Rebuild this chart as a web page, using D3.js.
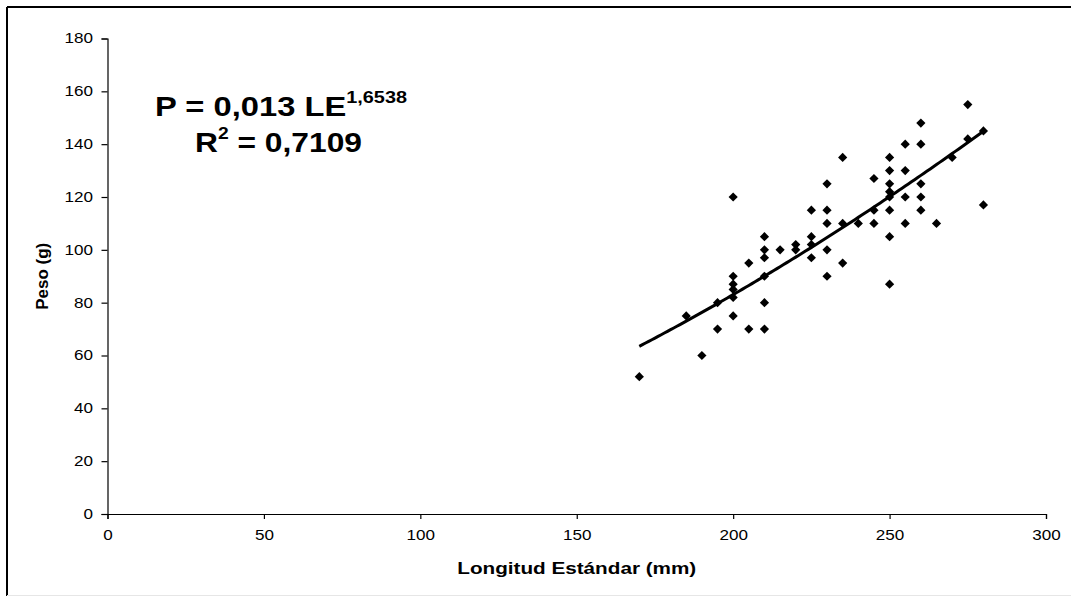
<!DOCTYPE html>
<html>
<head>
<meta charset="utf-8">
<script src="https://cdn.jsdelivr.net/npm/d3@7"></script>
<style>
  html, body { margin: 0; padding: 0; background: #fff; }
  svg { display: block; }
  text { font-family: "Liberation Sans", Arial, sans-serif; fill: #000; }
</style>
</head>
<body>
<svg id="chart" width="1071" height="596"></svg>
<script>
// Longitud estándar (mm) y peso (g) de cada ejemplar
const longitud = [170, 190, 185, 195, 195, 200, 200, 200, 200, 200, 200,
  205, 205, 210, 210, 210, 210, 210, 210, 215, 220, 220,
  225, 225, 225, 225, 230, 230, 230, 230, 230,
  235, 235, 235, 240, 245, 245, 245,
  250, 250, 250, 250, 250, 250, 250, 250,
  255, 255, 255, 255, 260, 260, 260, 260, 260,
  265, 270, 275, 275, 280, 280];
const peso = [52, 60, 75, 70, 80, 120, 90, 87, 85, 82, 75,
  95, 70, 105, 100, 97, 90, 80, 70, 100, 102, 100,
  115, 105, 102, 97, 125, 115, 110, 100, 90,
  135, 110, 95, 110, 127, 115, 110,
  135, 130, 125, 122, 120, 115, 105, 87,
  140, 130, 120, 110, 148, 140, 125, 120, 115,
  110, 135, 155, 142, 145, 117];

// Ajuste potencial P = a · LE^b
const coefA = 0.013;
const coefB = 1.6538;
const r2Label = "0,7109";
const trendRange = [170, 280];

const xTicks = [0, 50, 100, 150, 200, 250, 300];
const yTicks = [0, 20, 40, 60, 80, 100, 120, 140, 160, 180];

const svg = d3.select("#chart");
const W = 1071, H = 596;

// horizontal stretch applied to labels
function stretch(sel, factor) {
  sel.each(function () {
    const len = this.getComputedTextLength();
    d3.select(this).attr("textLength", len * factor).attr("lengthAdjust", "spacingAndGlyphs");
  });
}

// frame
svg.append("line").attr("x1", 7).attr("y1", 7).attr("x2", W).attr("y2", 7)
  .attr("stroke", "#000").attr("stroke-width", 2);
svg.append("line").attr("x1", 7).attr("y1", 7).attr("x2", 7).attr("y2", H)
  .attr("stroke", "#000").attr("stroke-width", 2);
svg.append("line").attr("x1", 7).attr("y1", 595.5).attr("x2", W).attr("y2", 595.5)
  .attr("stroke", "#e6e6e6").attr("stroke-width", 1);

const x = d3.scaleLinear().domain([0, 300]).range([107.5, 1046]);
const y = d3.scaleLinear().domain([0, 180]).range([514, 38.5]);

// axes
const gx = svg.append("g").attr("transform", `translate(0,${y(0)})`)
  .call(d3.axisBottom(x).tickValues(xTicks).tickSize(5).tickPadding(11).tickFormat(d3.format("d")));
const gy = svg.append("g").attr("transform", `translate(${x(0)},0)`)
  .call(d3.axisLeft(y).tickValues(yTicks).tickSize(6).tickPadding(7).tickFormat(d3.format("d")));
[gx, gy].forEach(g => {
  g.select(".domain").attr("stroke", "#000").attr("stroke-width", 1.2);
  g.selectAll(".tick line").attr("stroke", "#000").attr("stroke-width", 1.2);
  g.selectAll(".tick text").attr("font-size", 14)
    .attr("font-family", "'Liberation Sans', Arial, sans-serif").attr("fill", "#000");
});
gy.selectAll(".tick text").attr("dx", "-0.1em");
stretch(gx.selectAll(".tick text"), 1.22);
stretch(gy.selectAll(".tick text"), 1.22);

// axis titles
svg.append("text")
  .attr("x", (x(0) + x(300)) / 2).attr("y", 574)
  .attr("text-anchor", "middle").attr("font-size", 16).attr("font-weight", "bold")
  .attr("textLength", 239).attr("lengthAdjust", "spacingAndGlyphs")
  .text("Longitud Estándar (mm)");
svg.append("text")
  .attr("transform", `translate(48,${(y(0) + y(180)) / 2}) rotate(-90)`)
  .attr("text-anchor", "middle").attr("font-size", 16).attr("font-weight", "bold")
  .attr("textLength", 67).attr("lengthAdjust", "spacingAndGlyphs")
  .text("Peso (g)");

// trend line
const trendPts = d3.range(trendRange[0], trendRange[1] + 0.5, 1).map(v => [v, coefA * Math.pow(v, coefB)]);
svg.append("path")
  .datum(trendPts)
  .attr("fill", "none").attr("stroke", "#000").attr("stroke-width", 3)
  .attr("d", d3.line().x(d => x(d[0])).y(d => y(d[1])));

// data points (diamonds)
const dm = 4.6;
svg.append("g").selectAll("path")
  .data(longitud.map((l, i) => [l, peso[i]]))
  .join("path")
  .attr("transform", d => `translate(${x(d[0])},${y(d[1])})`)
  .attr("d", `M0,${-dm}L${dm},0L0,${dm}L${-dm},0Z`)
  .attr("fill", "#000");

// equation
const eq1 = svg.append("text").attr("x", 155).attr("y", 116)
  .attr("font-size", 28).attr("font-weight", "bold");
eq1.append("tspan").text(`P = ${String(coefA).replace(".", ",")} LE`);
eq1.append("tspan").attr("font-size", 17).attr("dy", -13).text(String(coefB).replace(".", ","));
eq1.attr("textLength", 252).attr("lengthAdjust", "spacingAndGlyphs");

const eq2 = svg.append("text").attr("x", 195).attr("y", 152)
  .attr("font-size", 28).attr("font-weight", "bold");
eq2.append("tspan").text("R");
eq2.append("tspan").attr("font-size", 17).attr("dy", -13).text("2");
eq2.append("tspan").attr("dy", 13).text(` = ${r2Label}`);
eq2.attr("textLength", 167).attr("lengthAdjust", "spacingAndGlyphs");
</script>
</body>
</html>
